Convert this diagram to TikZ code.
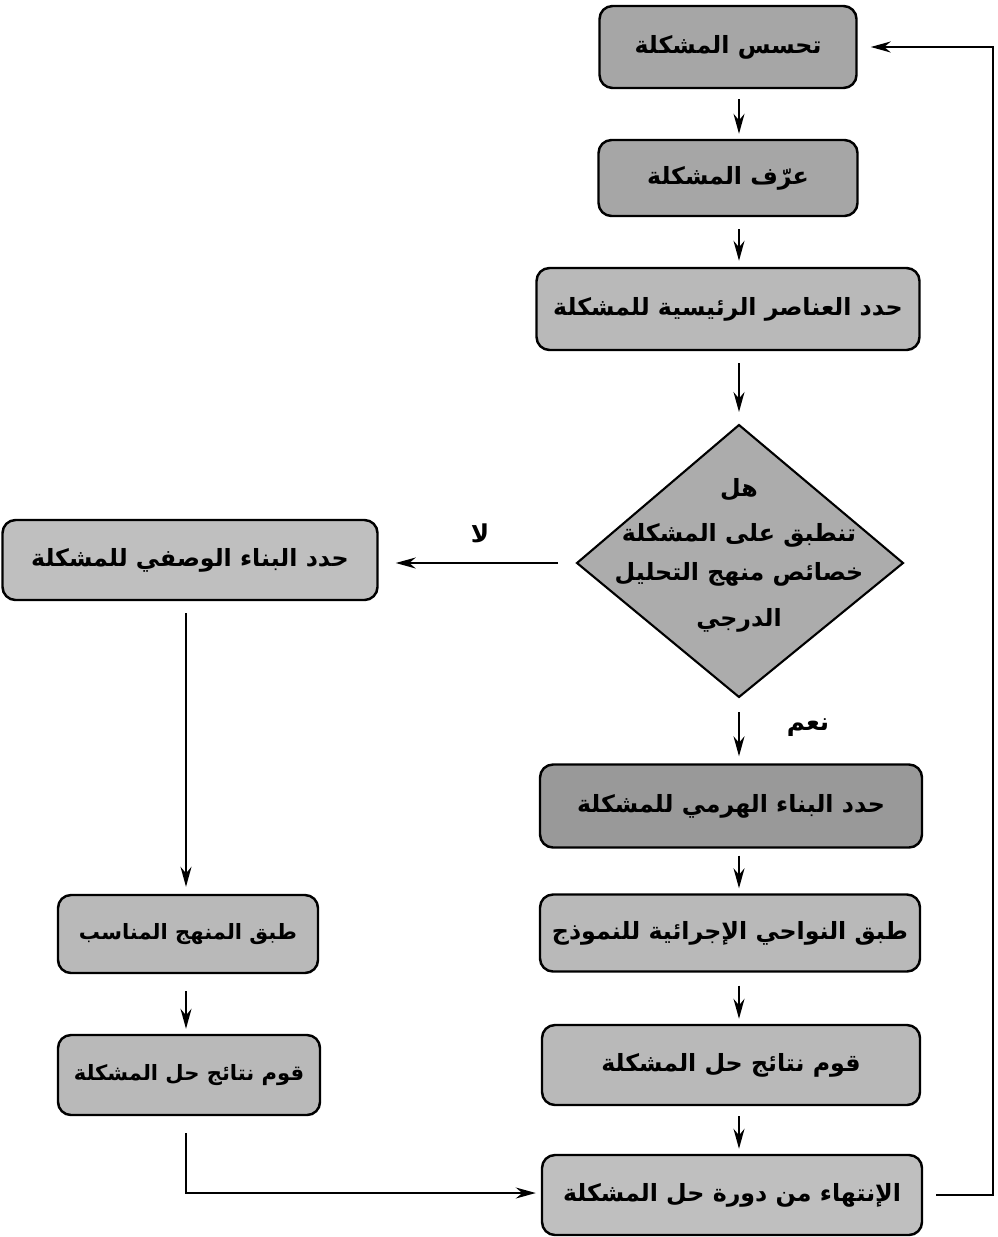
\documentclass[tikz,border=0pt]{standalone}
\usepackage{fontspec}
\newfontfamily\arabicfont[Script=Arabic]{DejaVu Sans}
\TeXXeTstate=1
\usetikzlibrary{arrows.meta}
\newcommand{\ar}[1]{\beginR #1\endR}
\begin{document}
\begin{tikzpicture}[x=0.2mm,y=-0.2mm,
  boxd/.style={draw=black,line width=1.4pt,rounded corners=2.6mm,fill=gray!70,
    inner sep=0pt,font=\arabicfont\bfseries\fontsize{13.5}{16}\selectfont},
  boxl/.style={boxd,fill=gray!55},
  small/.style={font=\arabicfont\bfseries\fontsize{12}{14}\selectfont},
  arr/.style={-{Stealth[length=4mm,width=2.2mm]},line width=1pt},
  lab/.style={font=\arabicfont\bfseries\fontsize{14}{16}\selectfont}]
\useasboundingbox (0,0) rectangle (997,1237);
% right column
\node[boxd,minimum width=51.4mm,minimum height=16.4mm] (b1) at (728,47) {\ar{تحسس المشكلة}};
\node[boxd,minimum width=51.8mm,minimum height=15.2mm] (b2) at (728,178) {\ar{عرّف المشكلة}};
\node[boxl,minimum width=76.6mm,minimum height=16.4mm] (b3) at (728,309) {\ar{حدد العناصر الرئيسية للمشكلة}};
% diamond
\coordinate (dT) at (739,425);
\coordinate (dR) at (903,563);
\coordinate (dB) at (739,697);
\coordinate (dL) at (577,563);
\filldraw[fill=gray!65,draw=black,line width=1.2pt] (dT) -- (dR) -- (dB) -- (dL) -- cycle;
\node[align=center,font=\arabicfont\bfseries\fontsize{13.5}{22}\selectfont] (dq) at (739,555)
  {\ar{هل}\\[4pt] \ar{تنطبق على المشكلة}\\ \ar{خصائص منهج التحليل}\\[4pt] \ar{الدرجي}};
\node[boxd,fill=gray!80,minimum width=76.4mm,minimum height=16.6mm] (b4) at (731,806) {\ar{حدد البناء الهرمي للمشكلة}};
\node[boxl,minimum width=76mm,minimum height=15.4mm] (b5) at (730,933) {\ar{طبق النواحي الإجرائية للنموذج}};
\node[boxl,minimum width=75.6mm,minimum height=16mm] (b6) at (731,1065) {\ar{قوم نتائج حل المشكلة}};
\node[boxl,fill=gray!50,minimum width=76mm,minimum height=16mm] (b7) at (732,1195) {\ar{الإنتهاء من دورة حل المشكلة}};
% left column
\node[boxl,fill=gray!50,minimum width=75mm,minimum height=16mm] (l1) at (190,560) {\ar{حدد البناء الوصفي للمشكلة}};
\node[boxl,small,minimum width=52mm,minimum height=15.6mm] (l2) at (188,934) {\ar{طبق المنهج المناسب}};
\node[boxl,small,minimum width=52.4mm,minimum height=16mm] (l3) at (189,1075) {\ar{قوم نتائج حل المشكلة}};
% labels
\node[lab] (no) at (480,533) {\ar{لا}};
\node[lab] (yes) at (808,728) {\ar{نعم}};
% connector axes
\coordinate (ax) at (739,0);
\coordinate (lx) at (186,0);
% connectors
\draw[arr,shorten <=2mm,shorten >=1mm] (b1.south -| ax) -- (b2.north -| ax);
\draw[arr,shorten <=2.4mm,shorten >=1.2mm] (b2.south -| ax) -- (b3.north -| ax);
\draw[arr,shorten <=2.4mm,shorten >=2.6mm] (b3.south -| ax) -- (dT);
\draw[arr,shorten <=3mm,shorten >=1.4mm] (dB) -- (b4.north -| ax);
\draw[arr,shorten <=1.4mm,shorten >=1mm] (b4.south -| ax) -- (b5.north -| ax);
\draw[arr,shorten <=2.6mm,shorten >=1mm] (b5.south -| ax) -- (b6.north -| ax);
\draw[arr,shorten <=2mm,shorten >=1mm] (b6.south -| ax) -- (b7.north -| ax);
\draw[arr,shorten <=3.8mm,shorten >=3.4mm] (dL) -- (l1.east |- dL);
\draw[arr,shorten <=2.4mm,shorten >=1.4mm] (l1.south -| lx) -- (l2.north -| lx);
\draw[arr,shorten <=3.4mm,shorten >=1mm] (l2.south -| lx) -- (l3.north -| lx);
\coordinate (c1) at (186,1193);
\draw[arr,shorten <=3.4mm,shorten >=1mm] (l3.south -| lx) -- (c1) -- (b7.west |- c1);
\coordinate (c2) at (993,1195);
\coordinate (c3) at (993,47);
\draw[arr,shorten <=2.6mm,shorten >=2.6mm] (b7.east) -- (c2) -- (c3) -- (b1.east);
\end{tikzpicture}
\end{document}
